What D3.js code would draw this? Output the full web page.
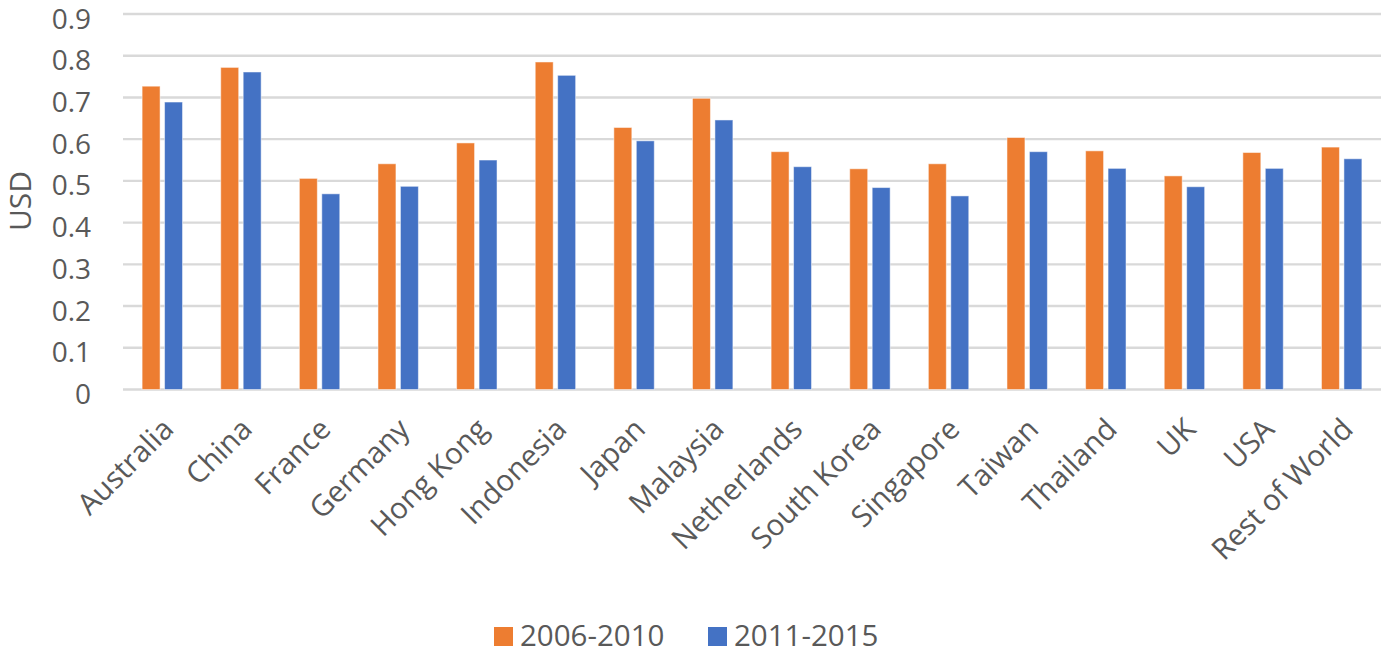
<!DOCTYPE html>
<meta charset="utf-8">

<!-- Load d3.js -->
<script src="https://d3js.org/d3.v7.min.js"></script>

<style>
  body { margin: 0; background: #fff; }
  text { font-family: "Open Sans", sans-serif; fill: #595959; }
</style>

<body>
<div id="my_dataviz"></div>

<script>
var countries = ["Australia", "China", "France", "Germany", "Hong Kong", "Indonesia", "Japan",
  "Malaysia", "Netherlands", "South Korea", "Singapore", "Taiwan", "Thailand", "UK", "USA", "Rest of World"];
var series = ["2006-2010", "2011-2015"];
var values2006 = [0.727, 0.772, 0.506, 0.541, 0.591, 0.785, 0.628, 0.698, 0.570, 0.529, 0.541, 0.604, 0.572, 0.512, 0.568, 0.581];
var values2011 = [0.689, 0.761, 0.469, 0.487, 0.550, 0.753, 0.596, 0.646, 0.534, 0.484, 0.464, 0.570, 0.530, 0.486, 0.530, 0.553];
var yTicks = [0, 0.1, 0.2, 0.3, 0.4, 0.5, 0.6, 0.7, 0.8, 0.9];
var colors = ["#ED7D31", "#4472C4"];

(function() {
  var width = 1381, height = 666;
  var left = 123, right = 1381, top = 14, bottom = 389.5;

  var svg = d3.select("#my_dataviz")
    .append("svg")
      .attr("width", width)
      .attr("height", height);

  var x0 = d3.scaleBand()
    .domain(countries)
    .range([left, right])
    .paddingInner(0.486)
    .paddingOuter(0.243);

  var x1 = d3.scaleBand()
    .domain(series)
    .range([0, x0.bandwidth()])
    .paddingInner(0.2);

  var y = d3.scaleLinear()
    .domain([0, 0.9])
    .range([bottom, top]);

  // gridlines
  svg.append("g")
    .selectAll("line")
    .data(yTicks)
    .enter().append("line")
      .attr("x1", left)
      .attr("x2", right)
      .attr("y1", function(d) { return y(d); })
      .attr("y2", function(d) { return y(d); })
      .attr("stroke", "#D9D9D9")
      .attr("stroke-width", 2.4);

  // y tick labels
  svg.append("g")
    .selectAll("text")
    .data(yTicks)
    .enter().append("text")
      .attr("x", 91)
      .attr("y", function(d) { return y(d); })
      .attr("dy", "0.52em")
      .attr("text-anchor", "end")
      .style("font-size", "28px")
      .text(function(d) { return d === 0 ? "0" : d3.format(".1f")(d); });

  // y axis title
  svg.append("text")
    .attr("transform", "translate(31,201) rotate(-90)")
    .attr("text-anchor", "middle")
    .style("font-size", "30px")
    .text("USD");

  // bars
  var rows = countries.map(function(c, i) {
    return { country: c, vals: [values2006[i], values2011[i]] };
  });

  var groups = svg.append("g")
    .selectAll("g")
    .data(rows)
    .enter().append("g")
      .attr("transform", function(d) { return "translate(" + x0(d.country) + ",0)"; });

  groups.selectAll("rect")
    .data(function(d) { return d.vals.map(function(v, j) { return { key: series[j], value: v, idx: j }; }); })
    .enter().append("rect")
      .attr("x", function(d) { return x1(d.key); })
      .attr("y", function(d) { return y(d.value); })
      .attr("width", x1.bandwidth())
      .attr("height", function(d) { return y(0) - y(d.value); })
      .attr("fill", function(d) { return colors[d.idx]; })
      .attr("stroke", "#fff")
      .attr("stroke-opacity", 0.5)
      .attr("stroke-width", 1);

  // x labels, rotated
  svg.append("g")
    .selectAll("text")
    .data(countries)
    .enter().append("text")
      .attr("transform", function(d) {
        return "translate(" + (x0(d) + x0.bandwidth() / 2 + 13) + ",431) rotate(-45)";
      })
      .attr("text-anchor", "end")
      .style("font-size", "29.5px")
      .text(function(d) { return d; });

  // legend
  var legend = svg.append("g")
    .selectAll("g")
    .data(series)
    .enter().append("g")
      .attr("transform", function(d, i) { return "translate(" + (494 + i * 214) + ",627)"; });

  legend.append("rect")
    .attr("width", 19)
    .attr("height", 19)
    .attr("fill", function(d, i) { return colors[i]; });

  legend.append("text")
    .attr("x", 26)
    .attr("y", 19)
    .style("font-size", "29.5px")
    .text(function(d) { return d; });
})();
</script>
</body>
